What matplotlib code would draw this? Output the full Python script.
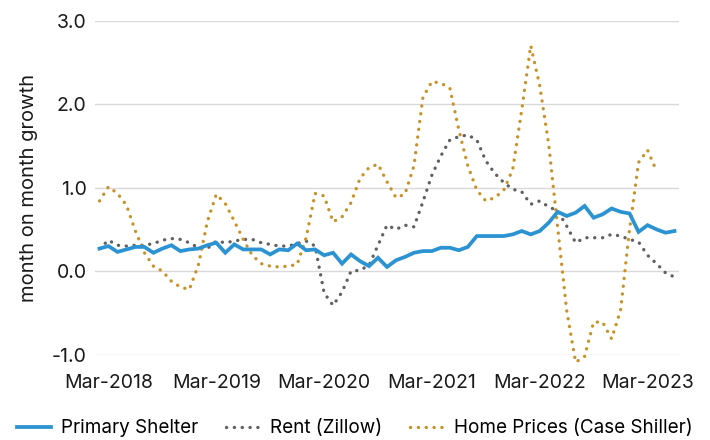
import numpy as np
import matplotlib
matplotlib.use('Agg')
import matplotlib.pyplot as plt

plt.rcParams['font.family'] = ['Inter', 'DejaVu Sans']

# monthly series, Feb-2018 .. Jun-2023
months = ['Feb', 'Mar', 'Apr', 'May', 'Jun', 'Jul', 'Aug', 'Sep', 'Oct', 'Nov', 'Dec', 'Jan']
labels = []
for i in range(65):
    m = months[i % 12]
    yr = 2018 + (i + 1) // 12
    labels.append(f'{m}-{yr}')

primary_shelter = [0.27, 0.30, 0.23, 0.26, 0.29, 0.29, 0.22, 0.27, 0.31, 0.24,
                   0.26, 0.27, 0.31, 0.34, 0.22, 0.32, 0.26, 0.26, 0.26, 0.20,
                   0.26, 0.25, 0.33, 0.25, 0.26, 0.19, 0.22, 0.09, 0.20, 0.12,
                   0.06, 0.16, 0.05, 0.13, 0.17, 0.22, 0.24, 0.24, 0.28, 0.28,
                   0.25, 0.29, 0.42, 0.42, 0.42, 0.42, 0.44, 0.48, 0.44, 0.48,
                   0.58, 0.71, 0.66, 0.70, 0.78, 0.64, 0.68, 0.75, 0.71, 0.69,
                   0.47, 0.55, 0.50, 0.46, 0.48]

rent_zillow = [0.27, 0.37, 0.31, 0.30, 0.31, 0.31, 0.33, 0.37, 0.39, 0.38,
               0.34, 0.28, 0.27, 0.36, 0.34, 0.36, 0.38, 0.38, 0.34, 0.32,
               0.30, 0.30, 0.33, 0.36, 0.30, -0.26, -0.41, -0.25, 0.00, 0.01,
               0.07, 0.31, 0.55, 0.50, 0.55, 0.53, 0.83, 1.15, 1.38, 1.57,
               1.61, 1.63, 1.57, 1.32, 1.17, 1.06, 0.98, 0.95, 0.80, 0.84,
               0.77, 0.72, 0.54, 0.34, 0.40, 0.40, 0.40, 0.44, 0.42, 0.38,
               0.35, 0.19, 0.09, -0.02, -0.07]

home_prices = [0.84, 1.01, 0.93, 0.79, 0.48, 0.22, 0.06, 0.00, -0.12, -0.19,
               -0.22, 0.07, 0.59, 0.92, 0.81, 0.60, 0.38, 0.19, 0.09, 0.06,
               0.05, 0.06, 0.08, 0.40, 0.93, 0.90, 0.59, 0.65, 0.82, 1.11,
               1.24, 1.28, 1.07, 0.88, 0.92, 1.26, 2.08, 2.27, 2.25, 2.19,
               1.69, 1.26, 0.97, 0.84, 0.88, 0.97, 1.22, 1.93, 2.70, 2.22,
               1.52, 0.52, -0.47, -1.09, -1.02, -0.61, -0.61, -0.81, -0.47, 0.50,
               1.30, 1.45, 1.20]

fig = plt.figure(figsize=(7.1, 4.4), dpi=100)
ax = fig.add_axes([0.1338, 0.1939, 0.8225, 0.7595])

dots = (0.05, 2.3)
x = np.arange(len(labels))
ax.plot(x, primary_shelter, color='#2b93d1', lw=2.7, solid_joinstyle='miter',
        label='Primary Shelter', zorder=3, clip_on=False)
ax.plot(x[:len(rent_zillow)], rent_zillow, color='#606060', lw=2.4,
        dashes=dots, dash_capstyle='round', label='Rent (Zillow)',
        zorder=2, clip_on=False)
ax.plot(x[:len(home_prices)], home_prices, color='#c8922b', lw=2.4,
        dashes=dots, dash_capstyle='round',
        label='Home Prices (Case Shiller)', zorder=2, clip_on=False)

ax.set_xlim(-0.5, len(labels) - 0.5)
ax.set_ylim(-1.0, 3.0)
ax.set_yticks([-1.0, 0.0, 1.0, 2.0, 3.0])
ax.set_yticklabels(['-1.0', '0.0', '1.0', '2.0', '3.0'])
tick_idx = [i for i, l in enumerate(labels) if l.startswith('Mar')]
ax.set_xticks(tick_idx)
ax.set_xticklabels([labels[i] for i in tick_idx])

ax.grid(axis='y', color='#d9d9d9', lw=1.0)
ax.set_axisbelow(True)
for s in ax.spines.values():
    s.set_visible(False)
ax.tick_params(axis='both', length=0, colors='#1a1a1a')
ax.tick_params(axis='x', labelsize=14, pad=14)
ax.tick_params(axis='y', labelsize=14, pad=6)
ax.set_ylabel('month on month growth', fontsize=14.5, color='#1a1a1a', labelpad=10)

fig.legend(loc='center', bbox_to_anchor=(0.5, 0.027), ncol=3, frameon=False,
           fontsize=13.6, handlelength=1.8, handletextpad=0.5, columnspacing=1.5)

fig.savefig('out.png', dpi=100)
